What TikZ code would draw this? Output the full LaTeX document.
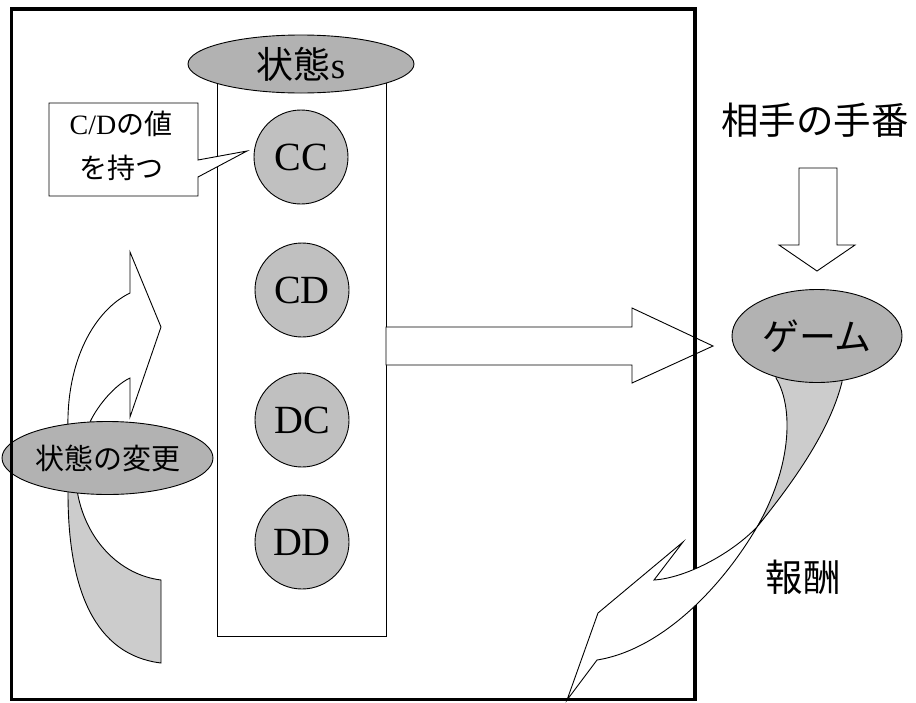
\documentclass[tikz,border=0pt]{standalone}
\usepackage{fontspec}
\setmainfont{Liberation Serif}
\newfontfamily\jp{Noto Sans CJK JP}
\usetikzlibrary{shapes.geometric}
\definecolor{elgray}{RGB}{178,178,178}
\definecolor{cgray}{RGB}{192,192,192}
\definecolor{rgray}{RGB}{204,204,204}
\begin{document}
\begin{tikzpicture}[x=1pt,y=-1pt,line join=miter,
  thinline/.style={draw=black,line width=0.9pt},
  statecirc/.style={circle,draw,line width=0.9pt,fill=cgray,minimum size=94pt,inner sep=0pt,font=\fontsize{40}{44}\selectfont},
  grayell/.style={ellipse,draw,line width=0.9pt,fill=elgray,inner sep=0pt},
  bigjp/.style={font=\jp\fontsize{37.5}{40}\selectfont},
  blockarrow/.style={draw,line width=0.9pt,fill=white},
  ribbon/.style={draw,line width=0.9pt,fill=rgray}]
\useasboundingbox (0,0) rectangle (916,702);
\fill[white] (0,0) rectangle (916,702);
% column
\draw[thinline,fill=white] (217,75) rectangle (386,636);
\node[grayell,minimum width=226pt,minimum height=58pt,font=\fontsize{37}{40}\selectfont] (state) at (301,64) {{\jp 状態}s};
\node[statecirc] (cc) at (301,157) {CC};
\node[statecirc] (cd) at (302,290) {CD};
\node[statecirc] (dc) at (302,420) {DC};
\node[statecirc] (dd) at (302,542) {DD};
% callout
\draw[thinline,fill=white] (49,103) -- (198,103) -- (198,160) -- (247,151) -- (198,177) -- (198,196) -- (49,196) -- cycle;
\node[align=center,font=\fontsize{28}{44}\selectfont] (note) at (121,146) {C/D{\jp の値}\\{\jp を持つ}};
% right arrow
\draw[blockarrow] (386,327) -- (632,327) -- (632,308) -- (713,346) -- (632,383) -- (632,365) -- (386,365) -- cycle;
% down arrow
\draw[blockarrow] (799,168) -- (837,168) -- (837,245) -- (855,245) -- (817,271) -- (779,245) -- (799,245) -- cycle;
\node[bigjp] (turn) at (815,120) {相手の手番};
% left curved arrow
\draw[blockarrow] (68,445) -- (68,430) .. controls (66,360) and (95,310) .. (130,293) -- (130,252) -- (161,327) -- (130,417) -- (130,378) .. controls (115,385) and (98,405) .. (90,422) -- (92,445) -- cycle;
\draw[ribbon] (68,475) -- (68,493) .. controls (68,590) and (95,655) .. (161,663) -- (161,580) .. controls (120,575) and (85,540) .. (77,490) -- (77,475) -- cycle;
\node[grayell,minimum width=211pt,minimum height=73pt,font=\jp\fontsize{29}{32}\selectfont] (change) at (107.5,458) {状態の変更};
% game ribbon
\draw[ribbon] (776,368) -- (776,378) .. controls (795,410) and (790,470) .. (757,527) .. controls (795,480) and (830,430) .. (842,382) -- (842,372) -- cycle;
\node[grayell,minimum width=170pt,minimum height=93pt,font=\jp\fontsize{37}{40}\selectfont] (game) at (817,336) {ゲーム};
% border
\draw[line width=3.2pt] (11.5,9) rectangle (695,699.5);
% reward arrow front
\draw[blockarrow] (757,527) .. controls (730,555) and (685,578) .. (654,580) -- (683,542) -- (598,613) -- (567,700) -- (597,660) .. controls (660,650) and (720,590) .. (757,527) -- cycle;
\node[bigjp] (reward) at (803,577) {報酬};
\end{tikzpicture}
\end{document}
